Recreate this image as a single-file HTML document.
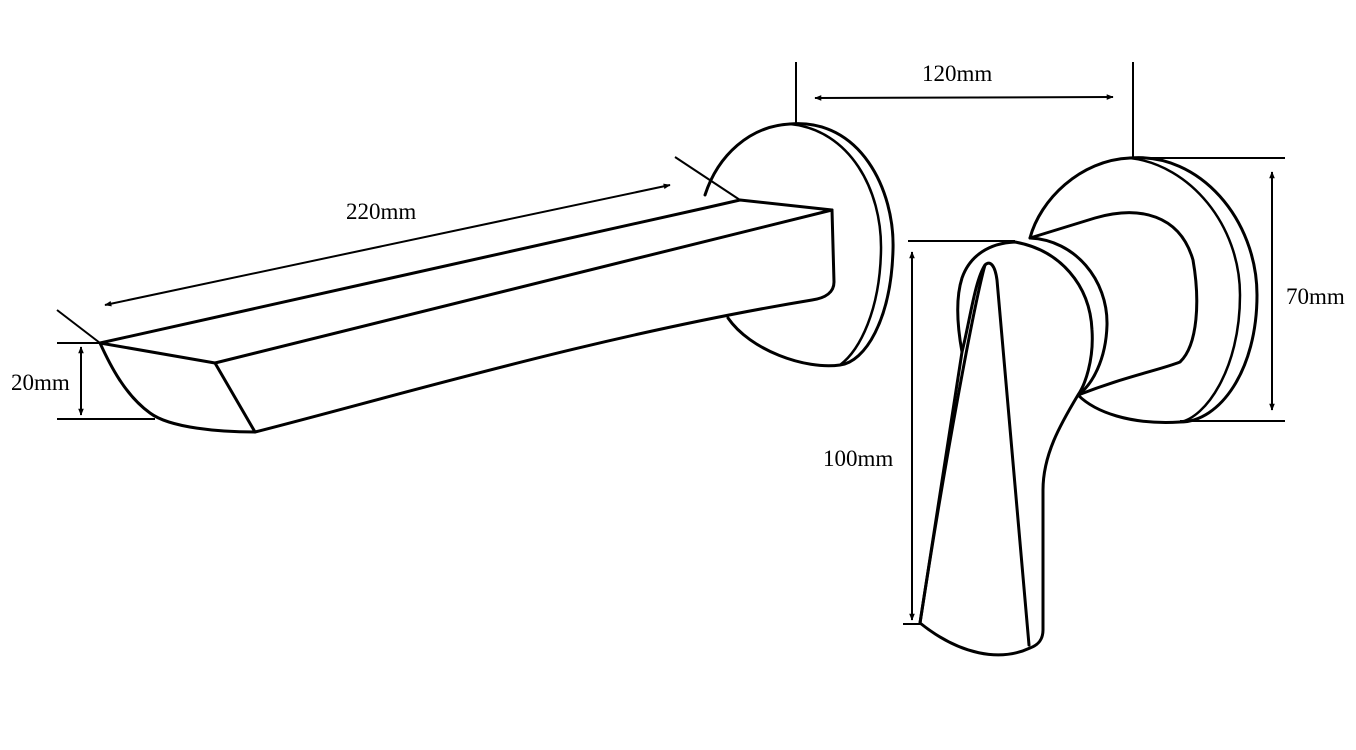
<!DOCTYPE html>
<html><head><meta charset="utf-8"><style>
html,body{margin:0;padding:0;background:#fff;}
svg{display:block;}
text{font-family:"Liberation Serif","Noto Serif CJK SC",serif;font-size:23px;fill:#000;}
</style></head><body>
<svg width="1356" height="750" viewBox="0 0 1356 750" xmlns="http://www.w3.org/2000/svg">
<defs>
<marker id="a" viewBox="0 0 10 10" refX="9" refY="5" markerWidth="9" markerHeight="7" orient="auto-start-reverse" markerUnits="userSpaceOnUse"><path d="M0,1 L10,5 L0,9 Z" fill="#000"/></marker>
</defs>
<g fill="none" stroke="#000" stroke-width="3" stroke-linejoin="round" stroke-linecap="round">
<!-- left flange -->
<path d="M790,124 C860,118 895,190 893,250 C891,320 865,362 840,365 C805,370 750,350 728,318"/>
<path d="M790,124 C750,126 718,155 705,195"/>
<path d="M790,124 C850,130 882,190 881,250 C880,310 860,350 840,365" stroke-width="2.5"/>
<!-- spout -->
<path d="M100,343 L705,208 L740,200 L832,210 L215,363 Z" fill="#fff"/>
<path d="M832,210 L834,282 C834,292 826,298 812,300 C600,335 400,395 255,432 C220,432 170,428 150,413 C125,395 110,365 100,343"/>
<path d="M215,363 L255,432"/>
<!-- right flange -->
<path d="M1130,158 C1200,152 1257,220 1257,295 C1257,370 1220,422 1180,422 C1130,425 1095,412 1078,395"/>
<path d="M1130,158 C1080,160 1040,200 1030,238"/>
<path d="M1130,158 C1190,165 1240,225 1240,295 C1240,370 1205,418 1180,422" stroke-width="2.5"/>
<!-- handle body -->
<path d="M1030,238 L1095,218 C1140,205 1180,215 1193,260 C1200,300 1198,345 1180,362 C1160,370 1130,375 1078,395"/>
<!-- collar -->
<path d="M1030,238 C1075,240 1108,280 1107,325 C1106,360 1092,385 1078,395"/>
<!-- lever -->
<path d="M1015,242 C1060,250 1090,285 1092,330 C1094,360 1085,385 1078,395 C1060,425 1043,455 1043,490 L1043,630 C1043,640 1038,645 1030,648 C1000,662 960,655 920,623 L962,352 C958,330 955,300 962,278 C970,255 990,243 1015,242 Z" fill="#fff"/>
<path d="M962,352 C970,320 975,280 985,265 C990,260 995,265 997,280 L1029,645"/>
<path d="M985,265 C975,300 945,460 920,623"/>
</g>
<g stroke="#000" stroke-width="2" fill="none">
<line x1="57" y1="310" x2="100" y2="343"/>
<line x1="675" y1="157" x2="740" y2="200"/>
<line x1="105" y1="305" x2="670" y2="185" marker-start="url(#a)" marker-end="url(#a)"/>
<line x1="57" y1="343" x2="100" y2="343"/>
<line x1="57" y1="419" x2="155" y2="419"/>
<line x1="81" y1="347" x2="81" y2="415" marker-start="url(#a)" marker-end="url(#a)"/>
<line x1="796" y1="62" x2="796" y2="123"/>
<line x1="1133" y1="62" x2="1133" y2="158"/>
<line x1="815" y1="98" x2="1113" y2="97" marker-start="url(#a)" marker-end="url(#a)"/>
<line x1="1130" y1="158" x2="1285" y2="158"/>
<line x1="1180" y1="421" x2="1285" y2="421"/>
<line x1="1272" y1="172" x2="1272" y2="410" marker-start="url(#a)" marker-end="url(#a)"/>
<line x1="908" y1="241" x2="1015" y2="241"/>
<line x1="903" y1="624" x2="922" y2="624"/>
<line x1="912" y1="252" x2="912" y2="620" marker-start="url(#a)" marker-end="url(#a)"/>
</g>
<text x="346" y="219">220mm</text>
<text x="11" y="390">20mm</text>
<text x="922" y="81">120mm</text>
<text x="1286" y="304">70mm</text>
<text x="823" y="466">100mm</text>
</svg>
</body></html>
